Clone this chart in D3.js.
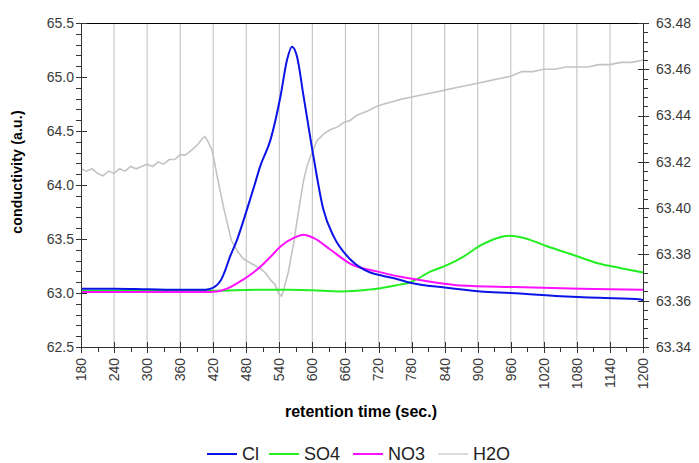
<!DOCTYPE html>
<html>
<head>
<meta charset="utf-8">
<script src="https://cdn.jsdelivr.net/npm/d3@7"></script>
<style>
  body { margin: 0; background: #fff; }
  svg { font-family: "Liberation Sans", Arial, sans-serif; }
</style>
</head>
<body>
<svg width="699" height="463"></svg>
<script>
// retention time (sec.), conductivity (a.u.)
const cl = [
  [180, 63.04], [240, 63.04], [300, 63.035], [360, 63.03], [400, 63.03], [412, 63.035],
  [420, 63.05], [427, 63.075], [434, 63.12], [441, 63.2], [450, 63.33], [463, 63.49],
  [481, 63.77], [495, 64.0], [505, 64.17], [524, 64.42], [542, 64.82], [554, 65.16],
  [563, 65.28], [572, 65.19], [584, 64.82], [602, 64.26], [620, 63.77], [639, 63.52],
  [669, 63.31], [705, 63.19], [724, 63.165], [760, 63.12], [778, 63.095], [840, 63.05],
  [905, 63.015], [960, 63.0], [1051, 62.97], [1120, 62.955], [1196, 62.94], [1200, 62.93]
];
const so4 = [
  [180, 63.02], [300, 63.02], [420, 63.02], [500, 63.03], [560, 63.03], [600, 63.025],
  [650, 63.015], [680, 63.02], [700, 63.03], [724, 63.045], [750, 63.07], [778, 63.10],
  [815, 63.20], [845, 63.26], [875, 63.34], [905, 63.44], [936, 63.51], [957, 63.53],
  [984, 63.51], [1027, 63.43], [1075, 63.35], [1118, 63.275], [1160, 63.23], [1200, 63.19]
];
const no3 = [
  [180, 63.01], [300, 63.01], [400, 63.01], [427, 63.015], [445, 63.04], [463, 63.09],
  [485, 63.16], [505, 63.24], [525, 63.34], [542, 63.43], [566, 63.51], [584, 63.54],
  [602, 63.51], [633, 63.40], [669, 63.27], [717, 63.20], [760, 63.15], [778, 63.135],
  [820, 63.10], [869, 63.07], [966, 63.055], [1087, 63.04], [1200, 63.03]
];
// H2O is read against the right axis
const h2o = [
  [180, 63.417], [190, 63.416], [200, 63.417], [210, 63.415], [220, 63.414], [230, 63.416],
  [240, 63.415], [250, 63.417], [260, 63.416], [270, 63.418], [280, 63.417], [290, 63.418],
  [300, 63.419], [310, 63.418], [320, 63.420], [330, 63.419], [340, 63.421], [350, 63.421],
  [360, 63.423], [370, 63.423], [380, 63.425], [390, 63.427], [400, 63.430], [405, 63.431],
  [410, 63.429], [418, 63.425], [427, 63.414], [439, 63.400], [453, 63.386], [465, 63.381],
  [475, 63.378], [490, 63.376], [505, 63.374], [515, 63.372], [524, 63.369], [532, 63.367],
  [539, 63.363], [544, 63.362], [548, 63.365], [556, 63.372], [566, 63.385], [575, 63.399],
  [584, 63.412], [590, 63.418], [596, 63.422], [608, 63.429], [620, 63.432], [633, 63.434],
  [645, 63.435], [657, 63.437], [669, 63.438], [680, 63.440], [690, 63.441], [700, 63.442],
  [717, 63.444], [730, 63.445], [745, 63.446], [760, 63.447], [780, 63.448], [800, 63.449],
  [820, 63.450], [840, 63.451], [860, 63.452], [880, 63.453], [900, 63.454], [920, 63.455],
  [940, 63.456], [960, 63.457], [980, 63.459], [1000, 63.459], [1020, 63.460], [1040, 63.460],
  [1060, 63.461], [1080, 63.461], [1100, 63.461], [1120, 63.462], [1140, 63.462], [1160, 63.463],
  [1180, 63.463], [1200, 63.464]
];
const seriesNames = ["Cl", "SO4", "NO3", "H2O"];
const xTicks = d3.range(180, 1201, 60);
const yLeftTicks = [62.5, 63.0, 63.5, 64.0, 64.5, 65.0, 65.5];
const yRightTicks = [63.34, 63.36, 63.38, 63.40, 63.42, 63.44, 63.46, 63.48];

const svg = d3.select("svg");
const margin = { top: 23, right: 57, bottom: 116, left: 81 };
const W = 699, H = 463;

const x = d3.scaleLinear().domain([180, 1200]).range([margin.left, W - margin.right + 1]);
const yL = d3.scaleLinear().domain([62.5, 65.5]).range([H - margin.bottom, margin.top]);
const yR = d3.scaleLinear().domain([63.34, 63.48]).range([H - margin.bottom, margin.top]);

const x0 = x.range()[0], x1 = x.range()[1];
const yb = yL.range()[0], yt = yL.range()[1];

// vertical grid
svg.append("g").selectAll("line")
  .data(xTicks.slice(1, -1))
  .enter().append("line")
  .attr("x1", d => x(d)).attr("x2", d => x(d))
  .attr("y1", yt).attr("y2", yb)
  .attr("stroke", "#c8c8c8").attr("stroke-width", 1.2);

// top border
svg.append("line")
  .attr("x1", x0).attr("x2", x1).attr("y1", yt + 0.5).attr("y2", yt + 0.5)
  .attr("stroke", "#000");

// series
const line = d3.line().x(d => x(d[0])).y(d => yL(d[1])).curve(d3.curveMonotoneX);
const lineR = d3.line().x(d => x(d[0])).y(d => yR(d[1])).curve(d3.curveLinear);
const colors = { Cl: "#0a14e6", SO4: "#22ee22", NO3: "#ff10ff", H2O: "#c3c3c3" };

svg.append("path").datum(h2o).attr("d", lineR)
  .attr("fill", "none").attr("stroke", colors.H2O).attr("stroke-width", 1.6);
svg.append("path").datum(so4).attr("d", line)
  .attr("fill", "none").attr("stroke", colors.SO4).attr("stroke-width", 2);
svg.append("path").datum(no3).attr("d", line)
  .attr("fill", "none").attr("stroke", colors.NO3).attr("stroke-width", 2);
svg.append("path").datum(cl).attr("d", line)
  .attr("fill", "none").attr("stroke", colors.Cl).attr("stroke-width", 2);

const axisColor = "#333";
const labelColor = "#3a3a3a";

// left axis
const gl = svg.append("g");
gl.append("line").attr("x1", x0 + 0.5).attr("x2", x0 + 0.5).attr("y1", yt).attr("y2", yb).attr("stroke", axisColor);
gl.selectAll(".minor").data(d3.range(62.5, 65.5001, 0.1)).enter().append("line")
  .attr("x1", x0 - 5).attr("x2", x0).attr("y1", d => Math.round(yL(d)) + 0.5).attr("y2", d => Math.round(yL(d)) + 0.5)
  .attr("stroke", axisColor);
gl.selectAll(".major").data(yLeftTicks).enter().append("line")
  .attr("x1", x0 - 5).attr("x2", x0 + 6).attr("y1", d => Math.round(yL(d)) + 0.5).attr("y2", d => Math.round(yL(d)) + 0.5)
  .attr("stroke", axisColor);
gl.selectAll("text").data(yLeftTicks).enter().append("text")
  .attr("x", x0 - 7).attr("y", d => yL(d)).attr("dy", "0.35em")
  .attr("text-anchor", "end").attr("fill", labelColor).style("font-size", "14px")
  .text(d => d.toFixed(1));

// right axis
const gr = svg.append("g");
gr.append("line").attr("x1", x1 + 0.5).attr("x2", x1 + 0.5).attr("y1", yt).attr("y2", yb).attr("stroke", axisColor);
gr.selectAll(".minor").data(d3.range(63.34, 63.4801, 0.004)).enter().append("line")
  .attr("x1", x1).attr("x2", x1 + 5).attr("y1", d => Math.round(yR(d)) + 0.5).attr("y2", d => Math.round(yR(d)) + 0.5)
  .attr("stroke", axisColor);
gr.selectAll(".major").data(yRightTicks).enter().append("line")
  .attr("x1", x1 - 5).attr("x2", x1 + 6).attr("y1", d => Math.round(yR(d)) + 0.5).attr("y2", d => Math.round(yR(d)) + 0.5)
  .attr("stroke", axisColor);
gr.selectAll("text").data(yRightTicks).enter().append("text")
  .attr("x", x1 + 13).attr("y", d => yR(d)).attr("dy", "0.35em")
  .attr("fill", labelColor).style("font-size", "14px")
  .text(d => d.toFixed(2));

// bottom axis
const gb = svg.append("g");
gb.append("line").attr("x1", x0).attr("x2", x1).attr("y1", yb + 0.5).attr("y2", yb + 0.5).attr("stroke", axisColor);
gb.selectAll(".minor").data(d3.range(180, 1201, 30)).enter().append("line")
  .attr("x1", d => Math.round(x(d)) + 0.5).attr("x2", d => Math.round(x(d)) + 0.5)
  .attr("y1", yb).attr("y2", yb + 5).attr("stroke", axisColor);
gb.selectAll(".major").data(xTicks).enter().append("line")
  .attr("x1", d => Math.round(x(d)) + 0.5).attr("x2", d => Math.round(x(d)) + 0.5)
  .attr("y1", yb - 5).attr("y2", yb + 6).attr("stroke", axisColor);
gb.selectAll("text").data(xTicks).enter().append("text")
  .attr("transform", d => `translate(${x(d)},${yb + 11}) rotate(-90)`)
  .attr("dy", "0.35em").attr("text-anchor", "end")
  .attr("fill", labelColor).style("font-size", "14px")
  .text(d => d);

// axis titles
svg.append("text")
  .attr("transform", `translate(22,172) rotate(-90)`)
  .attr("text-anchor", "middle").style("font-size", "14px").style("font-weight", "bold")
  .style("letter-spacing", "0.2px")
  .text("conductivity (a.u.)");
svg.append("text")
  .attr("x", 361).attr("y", 417)
  .attr("text-anchor", "middle").style("font-size", "16px").style("font-weight", "bold")
  .text("retention time (sec.)");

// legend
const legendX = [207, 269, 353, 438];
const leg = svg.append("g");
seriesNames.forEach((name, i) => {
  leg.append("line")
    .attr("x1", legendX[i]).attr("x2", legendX[i] + 30)
    .attr("y1", 454).attr("y2", 454)
    .attr("stroke", colors[name]).attr("stroke-width", name === "H2O" ? 1.2 : 2);
  leg.append("text")
    .attr("x", legendX[i] + 35).attr("y", 454).attr("dy", "0.36em")
    .attr("fill", "#222").style("font-size", "18px")
    .text(name);
});
</script>
</body>
</html>
